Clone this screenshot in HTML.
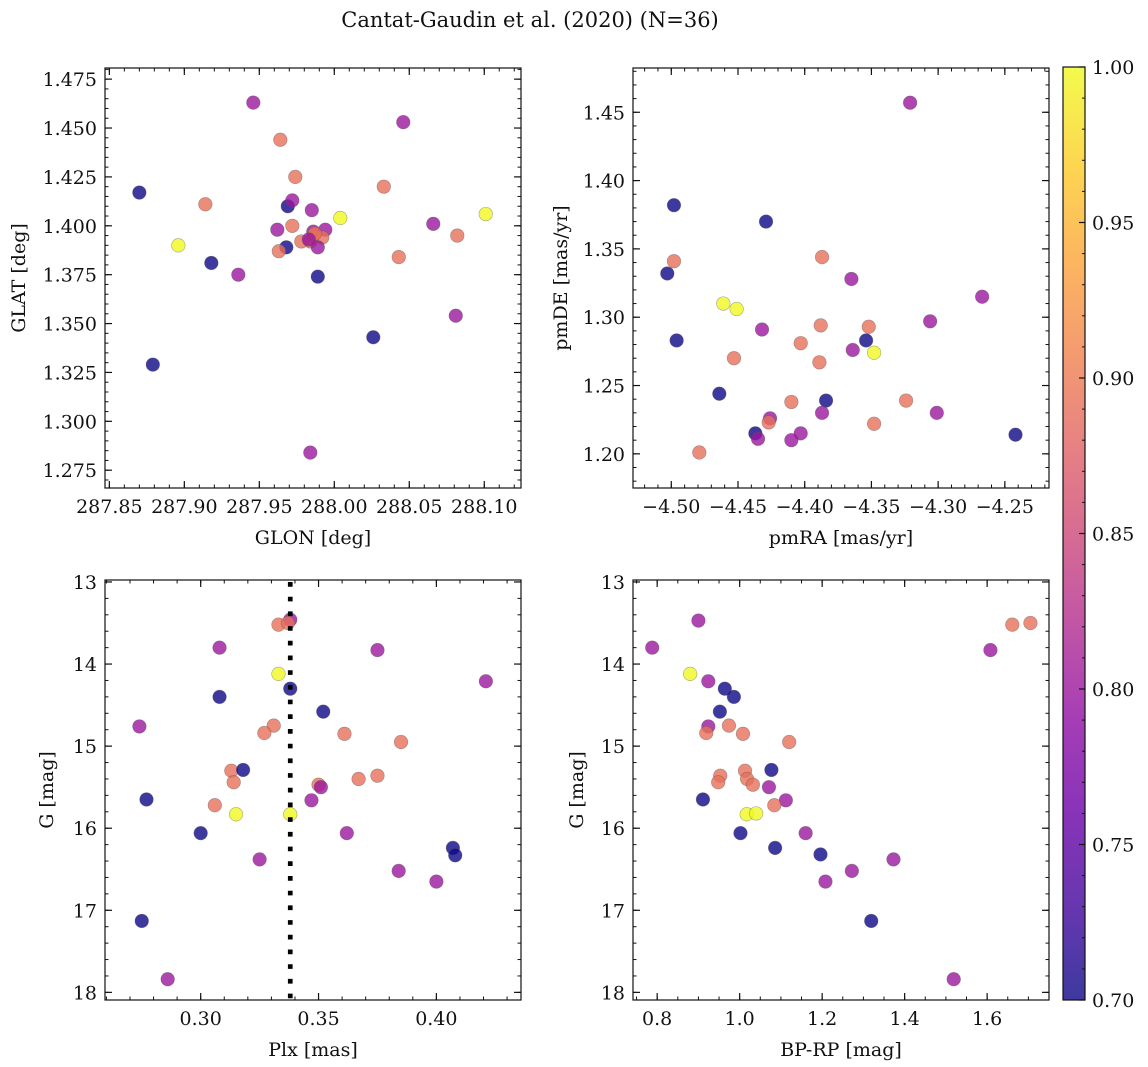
<!DOCTYPE html>
<html><head><meta charset="utf-8"><style>
html,body{margin:0;padding:0;background:#fff;}
svg{display:block;font-family:"DejaVu Serif","Liberation Serif",serif;}
</style></head><body>
<svg id="fig" width="1148" height="1067" viewBox="0 0 1148 1067" xmlns="http://www.w3.org/2000/svg">
<defs>
<linearGradient id="cbgrad" x1="0" y1="1" x2="0" y2="0"></linearGradient>
</defs>
<text x="530" y="27" font-size="21" text-anchor="middle" fill="#111">Cantat-Gaudin et al. (2020) (N=36)</text>
</svg>
<script>
// ---- data (b=0.70, p=0.80, s=0.89, y=1.0 membership probabilities) ----
const glon = [287.946,288.046,287.964,287.974,288.033,287.870,287.914,287.969,287.972,287.985,288.004,288.101,288.066,287.972,287.962,287.994,287.986,288.082,287.986,287.992,287.978,287.984,287.989,287.968,287.963,287.896,287.918,287.936,287.989,288.043,288.081,288.026,287.879,287.984,287.987,287.983];
const glat = [1.463,1.453,1.444,1.425,1.420,1.417,1.411,1.410,1.413,1.408,1.404,1.406,1.401,1.400,1.398,1.398,1.397,1.395,1.395,1.394,1.392,1.392,1.389,1.389,1.387,1.390,1.381,1.375,1.374,1.384,1.354,1.343,1.329,1.284,1.396,1.393];
const probTL = [0.80,0.80,0.89,0.89,0.89,0.70,0.89,0.70,0.80,0.80,1.0,1.0,0.80,0.89,0.80,0.80,0.80,0.89,0.89,0.89,0.89,0.89,0.80,0.70,0.89,1.0,0.70,0.80,0.70,0.89,0.80,0.70,0.70,0.80,0.89,0.80];

const pmra = [-4.321,-4.498,-4.429,-4.387,-4.498,-4.503,-4.365,-4.267,-4.461,-4.451,-4.306,-4.432,-4.388,-4.352,-4.496,-4.354,-4.403,-4.364,-4.348,-4.453,-4.389,-4.464,-4.410,-4.384,-4.324,-4.387,-4.301,-4.426,-4.427,-4.348,-4.437,-4.403,-4.242,-4.435,-4.410,-4.479];
const pmde = [1.457,1.382,1.370,1.344,1.341,1.332,1.328,1.315,1.310,1.306,1.297,1.291,1.294,1.293,1.283,1.283,1.281,1.276,1.274,1.270,1.267,1.244,1.238,1.239,1.239,1.230,1.230,1.226,1.223,1.222,1.215,1.215,1.214,1.211,1.210,1.201];
const probTR = [0.80,0.70,0.70,0.89,0.89,0.70,0.80,0.80,1.0,1.0,0.80,0.80,0.89,0.89,0.70,0.70,0.89,0.80,1.0,0.89,0.89,0.70,0.89,0.70,0.89,0.80,0.80,0.80,0.89,0.89,0.70,0.80,0.70,0.80,0.80,0.89];

const plx = [0.338,0.333,0.337,0.308,0.375,0.333,0.338,0.421,0.308,0.352,0.274,0.331,0.327,0.361,0.385,0.313,0.318,0.314,0.350,0.351,0.367,0.375,0.277,0.347,0.306,0.315,0.338,0.300,0.362,0.407,0.408,0.325,0.384,0.400,0.275,0.286];
const gmagBL = [13.46,13.52,13.50,13.80,13.83,14.12,14.30,14.21,14.40,14.58,14.76,14.75,14.84,14.85,14.95,15.30,15.29,15.44,15.47,15.50,15.40,15.36,15.65,15.66,15.72,15.83,15.83,16.06,16.06,16.24,16.33,16.38,16.52,16.65,17.13,17.84];
const probBL = [0.80,0.89,0.89,0.80,0.80,1.0,0.70,0.80,0.70,0.70,0.80,0.89,0.89,0.89,0.89,0.89,0.70,0.89,0.89,0.80,0.89,0.89,0.70,0.80,0.89,1.0,1.0,0.70,0.80,0.70,0.70,0.80,0.80,0.80,0.70,0.80];
const plxRef = 0.338;

const bprp = [0.900,1.661,1.705,0.788,1.608,0.880,0.924,0.964,0.986,0.952,0.924,0.974,0.919,1.008,1.120,1.013,1.077,0.953,0.948,1.018,1.032,1.071,0.911,1.112,1.084,1.017,1.040,1.002,1.160,1.086,1.196,1.373,1.272,1.208,1.319,1.519];
const gmagBR = [13.47,13.52,13.50,13.80,13.83,14.12,14.21,14.30,14.40,14.58,14.76,14.75,14.84,14.85,14.95,15.30,15.29,15.36,15.44,15.40,15.47,15.50,15.65,15.66,15.72,15.83,15.82,16.06,16.06,16.24,16.32,16.38,16.52,16.65,17.13,17.84];
const probBR = [0.80,0.89,0.89,0.80,0.80,1.0,0.80,0.70,0.70,0.70,0.80,0.89,0.89,0.89,0.89,0.89,0.70,0.89,0.89,0.89,0.89,0.80,0.70,0.80,0.89,1.0,1.0,0.70,0.80,0.70,0.70,0.80,0.80,0.80,0.70,0.80];

const tlXTicks = [287.85,287.90,287.95,288.00,288.05,288.10];
const tlYTicks = [1.275,1.300,1.325,1.350,1.375,1.400,1.425,1.450,1.475];
const trXTicks = [-4.50,-4.45,-4.40,-4.35,-4.30,-4.25];
const trYTicks = [1.20,1.25,1.30,1.35,1.40,1.45];
const blXTicks = [0.30,0.35,0.40];
const gYTicks = [13,14,15,16,17,18];
const brXTicks = [0.8,1.0,1.2,1.4,1.6];
const cbTicks = [0.70,0.75,0.80,0.85,0.90,0.95,1.00];

const NS = "http://www.w3.org/2000/svg";
const svg = document.getElementById('fig');
function mk(tag, attrs, parent){const e=document.createElementNS(NS,tag);for(const k in attrs)e.setAttribute(k,attrs[k]);(parent||svg).appendChild(e);return e;}

const plasma = [[13,8,135],[65,4,157],[106,0,168],[143,13,164],[177,42,144],[204,71,120],[225,100,98],[242,132,75],[252,166,54],[252,206,37],[240,249,33]];
const vmin=0.70, vmax=1.00;
const FS=19;
function cmap(v){let t=(v-vmin)/(vmax-vmin);t=Math.max(0,Math.min(1,t))*10;const i=Math.min(9,Math.floor(t)),f=t-i;const a=plasma[i],b=plasma[i+1];return 'rgb('+a.map((c,k)=>Math.round(c+(b[k]-c)*f)).join(',')+')';}

function fmt(v,d){const s=Math.abs(v).toFixed(d);return (v<0?'\u2212':'')+s;}

function panel(name, box, xr, yr, xTicks, xMinor, xDec, yTicks, yMinor, yDec, xlab, ylab, ylabX, xs, ys, cs){
  const [L,T,R,B]=box;
  const sx=v=>L+(v-xr[0])/(xr[1]-xr[0])*(R-L);
  const sy=v=>B-(v-yr[0])/(yr[1]-yr[0])*(B-T);
  const g=mk('g',{});
  
  
  const pts=mk('g',{},g);
  
  
  for(let i=0;i<xs.length;i++){
    const c=mk('circle',{cx:sx(xs[i]),cy:sy(ys[i]),r:6.8,fill:cmap(cs[i]),'fill-opacity':0.8,stroke:'#555','stroke-opacity':0.5,'stroke-width':0.6},pts);
    
    
  }
  const fr=mk('rect',{x:L,y:T,width:R-L,height:B-T,fill:'none',stroke:'#111','stroke-width':1.2},g);
  
  
  const x0=Math.min(xr[0],xr[1]),x1=Math.max(xr[0],xr[1]);
  for(let v=Math.ceil(x0/xMinor-1e-6)*xMinor; v<=x1+1e-9; v+=xMinor){const X=sx(v);
    mk('line',{x1:X,x2:X,y1:B,y2:B-3.5,stroke:'#111','stroke-width':1},g);mk('line',{x1:X,x2:X,y1:T,y2:T+3.5,stroke:'#111','stroke-width':1},g);}
  xTicks.forEach(v=>{const X=sx(v);
    mk('line',{x1:X,x2:X,y1:B,y2:B-7,stroke:'#111','stroke-width':1.2},g);mk('line',{x1:X,x2:X,y1:T,y2:T+7,stroke:'#111','stroke-width':1.2},g);
    const t=mk('text',{x:X,y:B+25,'font-size':FS,'text-anchor':'middle',fill:'#111'},g);t.textContent=fmt(v,xDec);
    
    });
  const y0=Math.min(yr[0],yr[1]),y1=Math.max(yr[0],yr[1]);
  for(let v=Math.ceil(y0/yMinor-1e-6)*yMinor; v<=y1+1e-9; v+=yMinor){const Y=sy(v);
    mk('line',{x1:L,x2:L+3.5,y1:Y,y2:Y,stroke:'#111','stroke-width':1},g);mk('line',{x1:R,x2:R-3.5,y1:Y,y2:Y,stroke:'#111','stroke-width':1},g);}
  yTicks.forEach(v=>{const Y=sy(v);
    mk('line',{x1:L,x2:L+7,y1:Y,y2:Y,stroke:'#111','stroke-width':1.2},g);mk('line',{x1:R,x2:R-7,y1:Y,y2:Y,stroke:'#111','stroke-width':1.2},g);
    const t=mk('text',{x:L-8,y:Y+7,'font-size':FS,'text-anchor':'end',fill:'#111'},g);t.textContent=fmt(v,yDec);
    
    });
  const xl=mk('text',{x:(L+R)/2,y:B+56,'font-size':FS,'text-anchor':'middle',fill:'#111'},g);xl.textContent=xlab;
  
  
  const yl=mk('text',{x:ylabX,y:(T+B)/2,'font-size':FS,'text-anchor':'middle',fill:'#111',transform:'rotate(-90 '+ylabX+' '+((T+B)/2)+')'},g);yl.textContent=ylab;
  
  
  return {sx,sy,g};
}

panel('panel-glon-glat',[105,68,521,488],[287.8471,288.1245],[1.2659,1.4807],tlXTicks,0.01,2,tlYTicks,0.005,3,'GLON [deg]','GLAT [deg]',25,glon,glat,probTL);
panel('panel-pm',[633,68,1049,488],[-4.5287,-4.2169],[1.1750,1.4824],trXTicks,0.01,2,trYTicks,0.01,2,'pmRA [mas/yr]','pmDE [mas/yr]',567,pmra,pmde,probTR);
const bl=panel('panel-plx-g',[105,580,521,1000],[0.2594,0.4359],[18.093,12.976],blXTicks,0.01,2,gYTicks,0.2,0,'Plx [mas]','G [mag]',53,plx,gmagBL,probBL);
panel('panel-cmd',[633,580,1049,1000],[0.7414,1.750],[18.093,12.976],brXTicks,0.05,1,gYTicks,0.2,0,'BP-RP [mag]','G [mag]',583,bprp,gmagBR,probBR);

const ref=mk('line',{x1:bl.sx(plxRef),x2:bl.sx(plxRef),y1:582,y2:1000,stroke:'#000','stroke-width':4.7,'stroke-dasharray':'4.7 10'});



const grad=document.getElementById('cbgrad');
for(let i=0;i<=10;i++){mk('stop',{offset:(i*10)+'%','stop-color':'rgb('+plasma[i].join(',')+')','stop-opacity':0.8},grad);}
const cbL=1063,cbR=1085,cbT=67,cbB=1000;
const cb=mk('g',{});


mk('rect',{x:cbL,y:cbT,width:cbR-cbL,height:cbB-cbT,fill:'url(#cbgrad)',stroke:'#111','stroke-width':1.2},cb);
const cy=v=>cbB-(v-vmin)/(vmax-vmin)*(cbB-cbT);
for(let v=0.70; v<=1.0001; v+=0.01){mk('line',{x1:cbR,x2:cbR-3,y1:cy(v),y2:cy(v),stroke:'#111','stroke-width':1},cb);}
cbTicks.forEach(v=>{mk('line',{x1:cbR,x2:cbR-6,y1:cy(v),y2:cy(v),stroke:'#111','stroke-width':1.2},cb);
  const t=mk('text',{x:cbR+7,y:cy(v)+7,'font-size':FS,fill:'#111'},cb);t.textContent=v.toFixed(2);
  
  });
</script>
</body></html>
